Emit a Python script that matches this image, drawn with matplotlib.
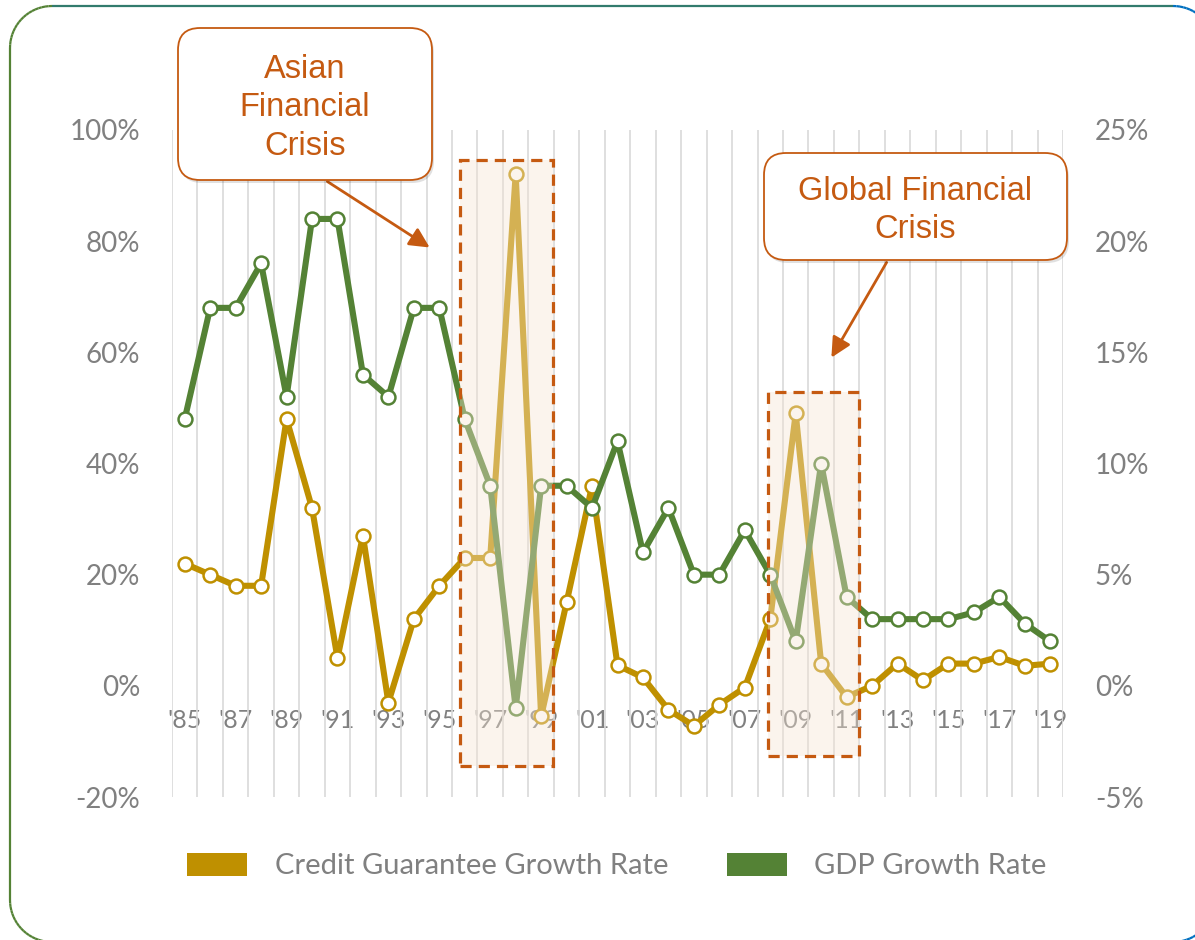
import numpy as np
import matplotlib
matplotlib.use('Agg')
import matplotlib.pyplot as plt
from matplotlib.patches import Patch, Rectangle, FancyBboxPatch, FancyArrowPatch
from matplotlib.collections import LineCollection
from matplotlib.transforms import IdentityTransform
from matplotlib.ticker import FixedLocator, PercentFormatter

plt.rcParams['axes.unicode_minus'] = False

# data (percent)
years = list(range(1985, 2020))
credit_growth = [22, 20, 18, 18, 48, 32, 5, 27, -3, 12,
                 18, 23, 23, 92, -5.5, 15, 36, 3.7, 1.5, -4.3,
                 -7.2, -3.4, -0.3, 12, 49, 4, -2, 0, 4, 1,
                 4, 4, 5.2, 3.6, 4]
gdp_growth = [12, 17, 17, 19, 13, 21, 21, 14, 13, 17,
              17, 12, 9, -1, 9, 9, 8, 11, 6, 8,
              5, 5, 7, 5, 2, 10, 4, 3, 3, 3,
              3, 3.3, 4, 2.8, 2]
left_ticks = [-20, 0, 20, 40, 60, 80, 100]
right_ticks = [-5, 0, 5, 10, 15, 20, 25]
series_names = ['Credit Guarantee Growth Rate', 'GDP Growth Rate']

# crisis highlight boxes: (x0, x1, y0, y1) in left-axis units
crisis_boxes = [(1995.8, 1999.45, -14.4, 94.6), (2007.9, 2011.5, -12.6, 52.8)]

GOLD = '#BF9000'
GREEN = '#548235'
ORANGE = '#C55A11'
GRAY = '#808080'
W, H = 1195, 940


def px(x, y):
    """image pixel (top-left origin) -> display coords"""
    return x, H - y


fig = plt.figure(figsize=(W / 100, H / 100), dpi=100)
ax = fig.add_axes([172 / W, 1 - 797 / H, (1063 - 172) / W, (797 - 130) / H])
ax2 = ax.twinx()

# vertical category gridlines
ax.xaxis.set_minor_locator(FixedLocator(np.arange(1984.5, 2020, 1)))
ax.grid(which='minor', axis='x', color='#D9D9D9', lw=1.2)
ax.grid(which='major', visible=False)
ax.set_xlim(1984.5, 2019.5)
ax.set_xticks(years[::2])
ax.set_xticklabels(["'%02d" % (y % 100) for y in years[::2]])
ax.tick_params(axis='x', which='both', length=0, pad=17, labelsize=18, labelcolor=GRAY)
ax.spines['bottom'].set_position(('data', 0))

ax.set_ylim(-20, 100)
ax.set_yticks(left_ticks)
ax.yaxis.set_major_formatter(PercentFormatter(decimals=0))
ax.tick_params(axis='y', length=0, pad=23, labelsize=20, labelcolor=GRAY)

ax2.set_ylim(-5, 25)
ax2.set_yticks(right_ticks)
ax2.yaxis.set_major_formatter(PercentFormatter(decimals=0))
ax2.tick_params(axis='y', length=0, pad=23, labelsize=20, labelcolor=GRAY)

for a in (ax, ax2):
    for s in a.spines.values():
        s.set_visible(False)

ax.plot(years, credit_growth, color=GOLD, lw=4.4, marker='o', ms=10,
        mfc='white', mec=GOLD, mew=1.8, zorder=3)
ax2.plot(years, gdp_growth, color=GREEN, lw=4.4, marker='o', ms=10,
         mfc='white', mec=GREEN, mew=1.8, zorder=3)

# translucent crisis boxes laid over both series
for x0, x1, y0, y1 in crisis_boxes:
    ax2.add_patch(Rectangle((x0, y0), x1 - x0, y1 - y0, transform=ax.transData,
                            facecolor='#F5E4D2', alpha=0.4, edgecolor='none',
                            zorder=5, clip_on=False))
    ax2.add_patch(Rectangle((x0, y0), x1 - x0, y1 - y0, transform=ax.transData,
                            facecolor='none', edgecolor=ORANGE, lw=2.3,
                            ls=(0, (3.5, 2.2)), zorder=6, clip_on=False))

# legend
handles = [Patch(facecolor=GOLD), Patch(facecolor=GREEN)]
fig.legend(handles, series_names, loc='center', bbox_to_anchor=(617 / W, 1 - 866 / H),
           ncol=2, frameon=False, fontsize=21, labelcolor=GRAY,
           handlelength=2.05, handleheight=0.86, handletextpad=0.95, columnspacing=2.0)

# callouts
idt = IdentityTransform()


def callout(x0, y0, x1, y1, text):
    shadow = FancyBboxPatch(px(x0 + 2, y1 + 3), x1 - x0, y1 - y0,
                            boxstyle='round,pad=0,rounding_size=22', transform=idt,
                            facecolor='#000000', alpha=0.12, edgecolor='none', zorder=9)
    box = FancyBboxPatch(px(x0, y1), x1 - x0, y1 - y0,
                         boxstyle='round,pad=0,rounding_size=22', transform=idt,
                         facecolor='white', edgecolor=ORANGE, lw=1.3, zorder=10)
    fig.patches.extend([shadow, box])
    tx, ty = px((x0 + x1) / 2, (y0 + y1) / 2 + 4)
    fig.text(tx, ty, text, transform=idt, ha='center', va='center', fontsize=23.5,
             color=ORANGE, family='Liberation Sans', linespacing=1.3, zorder=11)


def arrow(xa, ya, xb, yb):
    fig.patches.append(FancyArrowPatch(px(xa, ya), px(xb, yb), transform=idt,
                                       arrowstyle='-|>,head_length=12,head_width=6',
                                       mutation_scale=1, color=ORANGE, lw=2, zorder=8))


callout(178, 28, 432, 180, 'Asian\nFinancial\nCrisis')
arrow(325, 180, 432, 249)
callout(764, 153, 1067, 260, 'Global Financial\nCrisis')
arrow(888, 260, 830, 360)

# outer rounded frame, green fading to blue
fx0, fy0, fx1, fy1, r = 10, 6, 1215, 942, 42
pts = []
for cx, cy, a0 in [(fx1 - r, fy0 + r, -90), (fx1 - r, fy1 - r, 0),
                   (fx0 + r, fy1 - r, 90), (fx0 + r, fy0 + r, 180)]:
    ang = np.radians(np.linspace(a0, a0 + 90, 20))
    pts += [(cx + r * np.cos(t), cy + r * np.sin(t)) for t in ang]
pts.append(pts[0])
pts = np.array(pts)
segs = [[px(*pts[i]), px(*pts[i + 1])] for i in range(len(pts) - 1)]
green_rgb = np.array([84, 130, 53]) / 255
blue_rgb = np.array([0, 112, 192]) / 255
cols = []
for i in range(len(pts) - 1):
    t = np.clip(((pts[i, 0] + pts[i + 1, 0]) / 2 - 350) / 650, 0, 1)
    cols.append(green_rgb * (1 - t) + blue_rgb * t)
fig.add_artist(LineCollection(segs, colors=cols, linewidths=1.6, transform=idt))

for t in ax.get_xticklabels() + ax.get_yticklabels() + ax2.get_yticklabels():
    t.set_family('Lato')
for t in fig.legends[0].get_texts():
    t.set_family('Lato')

fig.savefig('out.png', dpi=100)
